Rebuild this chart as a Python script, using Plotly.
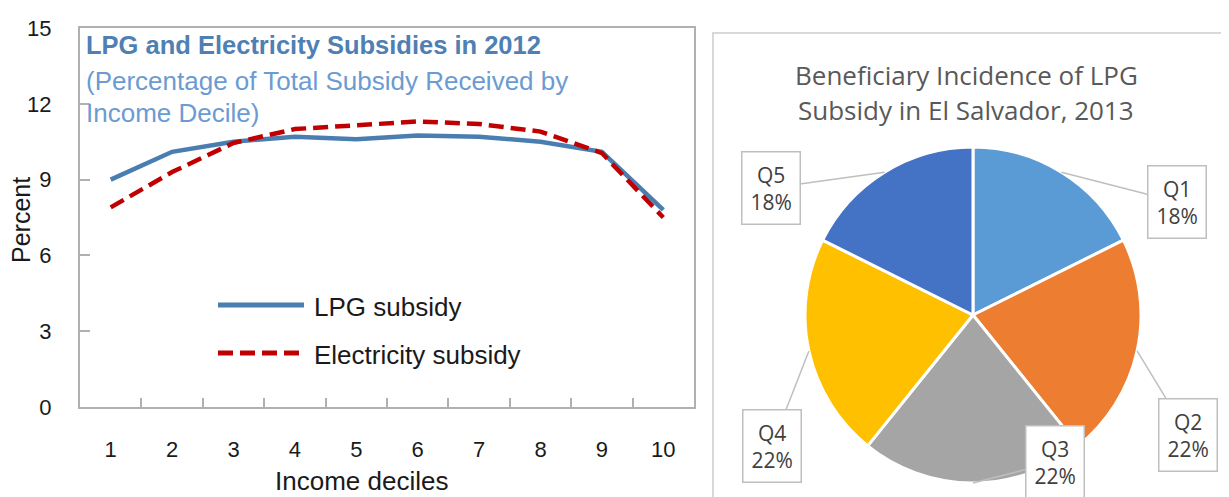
import math
import plotly.graph_objects as go

# ---------------- data ----------------
deciles = [1, 2, 3, 4, 5, 6, 7, 8, 9, 10]
lpg_subsidy = [9.0, 10.1, 10.5, 10.7, 10.6, 10.75, 10.7, 10.5, 10.1, 7.8]
elec_subsidy = [7.9, 9.3, 10.45, 11.0, 11.15, 11.3, 11.2, 10.9, 10.05, 7.5]
y_ticks = [0, 3, 6, 9, 12, 15]

quintiles = ["Q1", "Q2", "Q3", "Q4", "Q5"]
quintile_share = [18, 22, 22, 22, 18]
pie_colors = ["#5b9bd5", "#ed7d31", "#a5a5a5", "#ffc000", "#4472c4"]

W, H = 1229, 497
OFF = 8  # page body margin: figure is drawn 8px right and down in the window
LFONT = "Liberation Sans, Arial, sans-serif"
RFONT = "Open Sans, Lato, sans-serif"
LPG_COLOR = "#4a7eb0"
ELEC_COLOR = "#c00000"
DASH = "15px,7px"


def px(x):
    """window pixel x -> paper fraction"""
    return (x - OFF) / W


def py(y):
    """window pixel y (from top) -> paper fraction"""
    return 1 - (y - OFF) / H


fig = go.Figure()

fig.add_trace(go.Scatter(
    x=deciles, y=lpg_subsidy, mode="lines", name="LPG subsidy",
    line=dict(color=LPG_COLOR, width=4.5), showlegend=False,
))
fig.add_trace(go.Scatter(
    x=deciles, y=elec_subsidy, mode="lines", name="Electricity subsidy",
    line=dict(color=ELEC_COLOR, width=4.5, dash=DASH), showlegend=False,
))

# pie
cx, cy, r = 973, 315, 168
fig.add_trace(go.Pie(
    labels=quintiles, values=quintile_share, sort=False, direction="clockwise",
    rotation=0, marker=dict(colors=pie_colors, line=dict(color="white", width=3)),
    textinfo="none", hoverinfo="label+percent", showlegend=False,
    domain=dict(x=[px(cx - r), px(cx + r)], y=[py(cy + r), py(cy - r)]),
))

annotations = []
shapes = []

# left chart title block
annotations.append(dict(
    text="<b>LPG and Electricity Subsidies in 2012</b>", x=px(84), y=py(45),
    xref="paper", yref="paper", xanchor="left", yanchor="middle", showarrow=False,
    font=dict(family=LFONT, size=25.5, color="#4f7fb3"),
))
annotations.append(dict(
    text="(Percentage of Total Subsidy Received by", x=px(84), y=py(81),
    xref="paper", yref="paper", xanchor="left", yanchor="middle", showarrow=False,
    font=dict(family=LFONT, size=26, color="#6b9bd2"),
))
annotations.append(dict(
    text="Income Decile)", x=px(84), y=py(113),
    xref="paper", yref="paper", xanchor="left", yanchor="middle", showarrow=False,
    font=dict(family=LFONT, size=26, color="#6b9bd2"),
))

# axis titles
annotations.append(dict(
    text="Percent", x=px(21), y=py(220), xref="paper", yref="paper",
    xanchor="center", yanchor="middle", textangle=-90, showarrow=False,
    font=dict(family=LFONT, size=25, color="#1a1a1a"),
))
annotations.append(dict(
    text="Income deciles", x=px(361), y=py(481), xref="paper", yref="paper",
    xanchor="center", yanchor="middle", showarrow=False,
    font=dict(family=LFONT, size=26, color="#1a1a1a"),
))

# custom legend
for name, color, dash, yy in [("LPG subsidy", LPG_COLOR, "solid", 305),
                              ("Electricity subsidy", ELEC_COLOR, DASH, 353)]:
    shapes.append(dict(type="line", xref="paper", yref="paper",
                       x0=px(218), x1=px(304), y0=py(yy), y1=py(yy),
                       line=dict(color=color, width=5, dash=dash)))
    annotations.append(dict(
        text=name, x=px(312), y=py(yy + 2), xref="paper", yref="paper",
        xanchor="left", yanchor="middle", showarrow=False,
        font=dict(family=LFONT, size=26, color="#1a1a1a"),
    ))

# right chart frame and title
shapes.append(dict(type="rect", xref="paper", yref="paper",
                   x0=px(713), x1=px(1240), y0=py(510), y1=py(33),
                   line=dict(color="#d9d9d9", width=2), fillcolor="rgba(0,0,0,0)",
                   layer="below"))
annotations.append(dict(
    text="Beneficiary Incidence of LPG", x=px(966), y=py(75), xref="paper", yref="paper",
    xanchor="center", yanchor="middle", showarrow=False,
    font=dict(family=RFONT, size=26, color="#595959"),
))
annotations.append(dict(
    text="Subsidy in El Salvador, 2013", x=px(966), y=py(110), xref="paper", yref="paper",
    xanchor="center", yanchor="middle", showarrow=False,
    font=dict(family=RFONT, size=26, color="#595959"),
))

# pie data labels (callouts) anchored at slice mid-angles
label_offsets = [(116, 30), (51, 84), (82, -21), (-37, 95), (-114, 16)]
total = sum(quintile_share)
cum = 0
for q, v, (ox, oy) in zip(quintiles, quintile_share, label_offsets):
    mid = (cum + v / 2) / total * 2 * math.pi
    cum += v
    ax_px = cx + r * math.sin(mid)
    ay_px = cy - r * math.cos(mid)
    annotations.append(dict(
        text=f"{q}<br>{v}%", x=px(ax_px), y=py(ay_px), xref="paper", yref="paper",
        showarrow=True, arrowhead=0, arrowwidth=1.5, arrowcolor="#bfbfbf",
        ax=ox, ay=oy, axref="pixel", ayref="pixel",
        bordercolor="#bfbfbf", borderwidth=1.5, borderpad=8, bgcolor="white",
        font=dict(family=RFONT, size=21, color="#404040"),
    ))

fig.update_layout(
    width=W, height=H,
    margin=dict(l=0, r=0, t=0, b=0),
    paper_bgcolor="white", plot_bgcolor="white",
    showlegend=False,
    xaxis=dict(
        domain=[px(80), px(694)], range=[0.5, 10.5],
        tickmode="array", tickvals=deciles, ticktext=[str(d) for d in deciles],
        ticks="", showgrid=False, zeroline=False,
        showline=True, linecolor="#b0b0b0", linewidth=2, mirror=True,
        tickfont=dict(family=LFONT, size=22, color="#1a1a1a"),
        ticklabelstandoff=22, automargin=False,
        minor=dict(tickmode="array", tickvals=[d + 0.5 for d in deciles[:-1]],
                   ticks="inside", ticklen=9, tickwidth=1.5, tickcolor="#b0b0b0",
                   showgrid=False),
        fixedrange=True,
    ),
    yaxis=dict(
        domain=[py(407), py(28)], range=[0, 15],
        tickmode="array", tickvals=y_ticks,
        ticks="inside", ticklen=10, tickwidth=1.5, tickcolor="#b0b0b0",
        showgrid=False, zeroline=False,
        showline=True, linecolor="#b0b0b0", linewidth=2, mirror=True,
        tickfont=dict(family=LFONT, size=22, color="#1a1a1a"),
        ticklabelstandoff=22, automargin=False,
        fixedrange=True,
    ),
    annotations=annotations,
    shapes=shapes,
)

fig.write_html("out.html")
